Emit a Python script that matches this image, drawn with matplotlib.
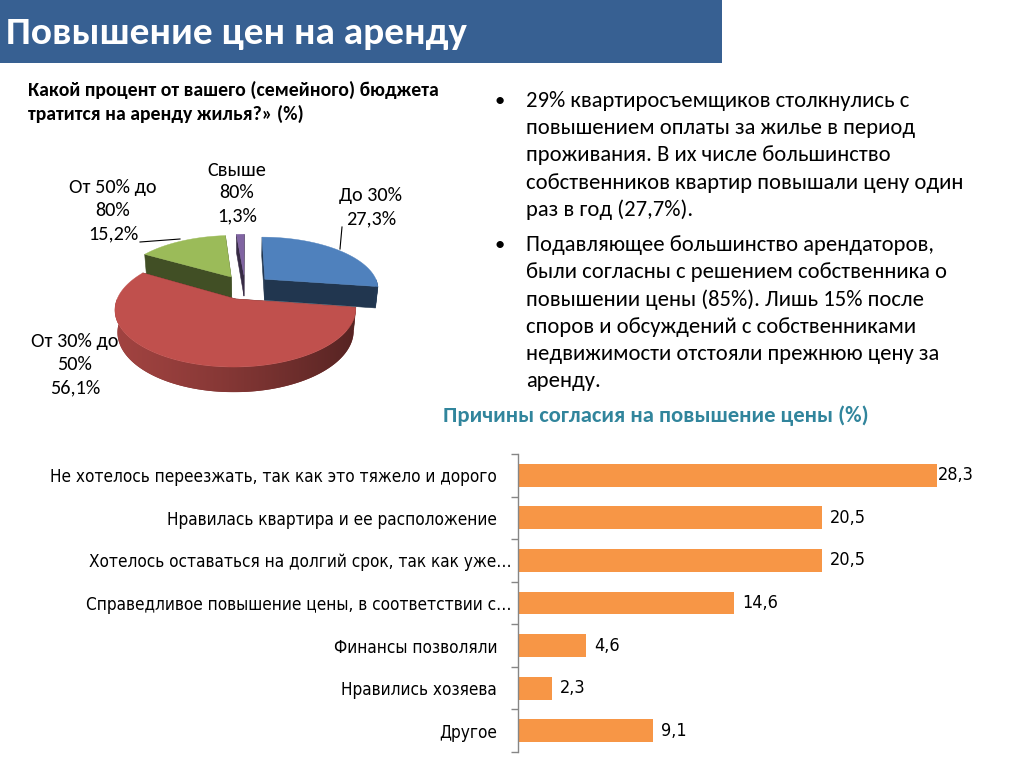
import numpy as np
import matplotlib
matplotlib.use("Agg")
import matplotlib.pyplot as plt
import matplotlib.font_manager as fm
from matplotlib.ft2font import FT2Font
from matplotlib.patches import Polygon, Rectangle

# ---------------- data ----------------
pie_labels = ["До 30%", "От 30% до\n50%", "От 50% до\n80%", "Свыше\n80%"]
pie_values = [27.3, 56.1, 15.2, 1.3]
pie_value_text = ["27,3%", "56,1%", "15,2%", "1,3%"]

bar_categories = [
    "Не хотелось переезжать, так как это тяжело и дорого",
    "Нравилась квартира и ее расположение",
    "Хотелось оставаться на долгий срок, так как уже…",
    "Справедливое повышение цены, в соответствии с…",
    "Финансы позволяли",
    "Нравились хозяева",
    "Другое",
]
bar_values = [28.3, 20.5, 20.5, 14.6, 4.6, 2.3, 9.1]
bar_value_text = ["28,3", "20,5", "20,5", "14,6", "4,6", "2,3", "9,1"]

title = "Повышение цен на аренду"
pie_question = ["Какой процент от вашего (семейного) бюджета",
                "тратится на аренду жилья?» (%)"]
bullet1 = ["29% квартиросъемщиков столкнулись с",
           "повышением оплаты за жилье в период",
           "проживания. В их числе большинство",
           "собственников квартир повышали цену один",
           "раз в год (27,7%)."]
bullet2 = ["Подавляющее большинство арендаторов,",
           "были согласны с решением собственника о",
           "повышении цены (85%). Лишь 15% после",
           "споров и обсуждений с собственниками",
           "недвижимости отстояли прежнюю цену за",
           "аренду."]
bar_title = "Причины согласия на повышение цены (%)"

# ---------------- fonts ----------------
def has_cyr_path(path):
    try:
        return ord('Ж') in FT2Font(path).get_charmap()
    except Exception:
        return False

def prop_for(name, weight="normal"):
    try:
        path = fm.findfont(fm.FontProperties(family=name, weight=weight),
                           fallback_to_default=False)
    except Exception:
        return None
    if not has_cyr_path(path):
        return None
    return fm.FontProperties(fname=path)

def pick(cands, weight="normal"):
    for c in cands:
        p = prop_for(c, weight)
        if p is not None:
            return p
    return fm.FontProperties(family="DejaVu Sans", weight=weight)

def condensed(weight):
    want_bold = weight == "bold"
    for nm in ("Liberation Sans Narrow", "DejaVu Sans"):
        for f in fm.fontManager.ttflist:
            if f.name != nm:
                continue
            if nm == "DejaVu Sans" and f.stretch != "condensed":
                continue
            isb = f.weight in ("bold", 700)
            if isb == want_bold and f.style == "normal" and has_cyr_path(f.fname):
                return fm.FontProperties(fname=f.fname)
    return None

BODY = pick(["Carlito", "Lato", "Open Sans", "Noto Sans"])
BODY_B = pick(["Carlito", "Lato", "Open Sans", "Noto Sans"], "bold")
NARROW = condensed("normal") or BODY

W, H = 1018, 757
fig = plt.figure(figsize=(W / 100, H / 100), dpi=100)
fig.patch.set_facecolor("white")
renderer = fig.canvas.get_renderer()

ov = fig.add_axes([0, 0, 1, 1])
ov.axis("off")
ov.set_zorder(0)

def fp(base, size):
    p = base.copy()
    p.set_size(size)
    return p

def fit_size(s, width_px, prop):
    t = fig.text(0, 0, s, fontproperties=fp(prop, 20))
    w = t.get_window_extent(renderer).width
    t.remove()
    return 20 * width_px / w

# ---------------- header ----------------
ov.add_patch(Rectangle((0, 0), 722, 63, facecolor="#376092", edgecolor="none"))
fs = fit_size(title, 460, BODY_B)
ov.text(6, 34, title, fontproperties=fp(BODY_B, fs), color="white",
        ha="left", va="center")

# ---------------- question ----------------
fs = fit_size(pie_question[0], 409, BODY_B)
for i, line in enumerate(pie_question):
    ov.text(28, 90 + 24 * i, line, fontproperties=fp(BODY_B, fs),
            ha="left", va="center", color="black")

# ---------------- bullets ----------------
fs = fit_size(bullet1[3], 435, BODY)
for lines, y0 in ((bullet1, 101), (bullet2, 245)):
    ov.text(500, y0, "•", fontproperties=fp(BODY, fs * 0.9), ha="center", va="center")
    for i, line in enumerate(lines):
        ov.text(526, y0 + 27.2 * i, line, fontproperties=fp(BODY, fs),
                ha="left", va="center", color="black")

# ---------------- 3D pie ----------------
cx, cy, P = 245, 287, 114
phi = np.deg2rad(27)
Dcam = 5.2
hgt = 0.215
expl = 0.236
top_colors = ["#4F81BD", "#C0504D", "#9BBB59", "#8064A2"]
grad_x0, grad_x1 = 110, 360

def proj(X, Y, Z):
    yp = Y * np.cos(phi) - Z * np.sin(phi)
    zp = Y * np.sin(phi) + Z * np.cos(phi)
    s = Dcam / (Dcam - zp)
    return cx + P * s * X, cy - P * s * yp, zp

def shade(c, f):
    r, g, b = matplotlib.colors.to_rgb(c)
    return (r * f, g * f, b * f)

def wall_shade(xpix):
    u = np.clip((xpix - grad_x0) / (grad_x1 - grad_x0), 0, 1)
    return 0.84 - 0.40 * u ** 1.3

fracs = np.array(pie_values) / np.sum(pie_values)
bounds = np.concatenate([[0], np.cumsum(fracs) * 360])
walls = []   # (depth, kind, poly, color)
tops = []
for i in range(len(pie_values)):
    t1, t2 = bounds[i], bounds[i + 1]
    tm = np.deg2rad((t1 + t2) / 2)
    ox, oz = expl * np.sin(tm), -expl * np.cos(tm)
    vx, vy, vz = proj(ox, 0, oz)
    th = np.deg2rad(np.linspace(t1, t2, max(3, int((t2 - t1) / 1.0) + 2)))
    RX = ox + np.sin(th)
    RZ = oz - np.cos(th)
    tx, ty, tz = proj(RX, 0 * RX, RZ)
    tops.append((np.mean(tz), np.column_stack([np.r_[vx, tx], np.r_[vy, ty]]), top_colors[i]))
    # visible outer wall (front half)
    a1, a2 = max(t1, 90), min(t2, 270)
    if a2 > a1:
        tw = np.deg2rad(np.linspace(a1, a2, max(3, int(a2 - a1) + 2)))
        WX = ox + np.sin(tw)
        WZ = oz - np.cos(tw)
        ux, uy, uz = proj(WX, 0 * WX, WZ)
        lx, ly, lz = proj(WX, -hgt + 0 * WX, WZ)
        poly = np.column_stack([np.r_[ux, lx[::-1]], np.r_[uy, ly[::-1]]])
        walls.append((np.mean(uz), "grad", poly, top_colors[i]))
    # radial walls
    bx, by, _ = proj(RX, -hgt + 0 * RX, RZ)
    vbx, vby, _ = proj(ox, -hgt, oz)
    for k in (0, -1):
        poly = np.array([(vx, vy), (tx[k], ty[k]), (bx[k], by[k]), (vbx, vby)])
        walls.append(((vz + tz[k]) / 2, "flat", poly, top_colors[i]))

z = 2.0
for depth, kind, poly, col in sorted(walls, key=lambda a: a[0]):
    z += 0.01
    if kind == "flat":
        c = shade(col, 0.42)
        ov.add_patch(Polygon(poly, closed=True, facecolor=c, edgecolor=c, lw=0.4, zorder=z))
    else:
        x0, x1 = poly[:, 0].min(), poly[:, 0].max()
        y0, y1 = poly[:, 1].min(), poly[:, 1].max()
        xs = np.linspace(x0, x1, 200)
        f = wall_shade(xs)
        img = np.array(matplotlib.colors.to_rgb(col))[None, None, :] * f[None, :, None]
        img = np.repeat(img, 2, axis=0)
        patch = Polygon(poly, closed=True, facecolor=shade(col, float(f.mean())),
                        edgecolor="none", zorder=z)
        ov.add_patch(patch)
        im = ov.imshow(img, extent=[x0, x1, y1, y0], aspect="auto",
                       interpolation="bilinear", zorder=z + 0.005)
        im.set_clip_path(patch)

for depth, poly, col in sorted(tops, key=lambda a: a[0]):
    ov.add_patch(Polygon(poly, closed=True, facecolor=col, edgecolor=col, lw=0.3, zorder=3))

fs_pie = fit_size("От 50% до", 87, BODY)
lab_pos = [(371, 196), (75, 342), (113, 188), (237, 170)]
for i, (x, y) in enumerate(lab_pos):
    lines = pie_labels[i].split("\n") + [pie_value_text[i]]
    for j, line in enumerate(lines):
        ov.text(x, y + 23 * j, line, fontproperties=fp(BODY, fs_pie),
                ha="center", va="center", color="black", zorder=4)
ov.plot([140, 180], [242, 239], color="black", lw=0.8, zorder=4)
ov.plot([342, 340], [227, 249], color="black", lw=0.8, zorder=4)

# ---------------- bar title ----------------
fs = fit_size(bar_title, 426, BODY_B)
ov.text(656, 416, bar_title, fontproperties=fp(BODY_B, fs),
        color="#31859C", ha="center", va="center")

ov.set_xlim(0, W)
ov.set_ylim(H, 0)

# ---------------- bar chart ----------------
ax_l, ax_r, ax_t, ax_b = 518, 1005, 454, 752
px_per_unit = (937 - 518) / 28.3
label_right_max = 973
ax = fig.add_axes([ax_l / W, 1 - ax_b / H, (ax_r - ax_l) / W, (ax_b - ax_t) / H])
ax.set_zorder(1)
ax.patch.set_alpha(0)
ypos = np.arange(len(bar_values))
ax.barh(ypos, bar_values, height=0.54, color="#F79646", edgecolor="none")
ax.set_ylim(len(bar_values) - 0.5, -0.5)
ax.set_xlim(0, (ax_r - ax_l) / px_per_unit)
for s in ("top", "right", "bottom"):
    ax.spines[s].set_visible(False)
ax.spines["left"].set_color("#868686")
ax.spines["left"].set_linewidth(1)
ax.set_xticks([])
ax.set_yticks(ypos)
fs_bar = fit_size(bar_categories[0], 446, NARROW)
ax.set_yticklabels(bar_categories, fontproperties=fp(NARROW, fs_bar))
ax.tick_params(axis="y", which="major", length=0, pad=15)
for tick, lab in zip(ax.yaxis.get_major_ticks(), bar_categories):
    if lab.endswith("…"):
        tick.set_pad(4.5)
ax.set_yticks(np.arange(-0.5, len(bar_values) + 0.5, 1), minor=True)
ax.tick_params(axis="y", which="minor", length=5, color="#868686", width=1, direction="out")
for i, (v, t) in enumerate(zip(bar_values, bar_value_text)):
    txt = ax.text(v + 0.55, i, t, fontproperties=fp(NARROW, fs_bar * 1.05),
                  ha="left", va="center")
    wpx = txt.get_window_extent(renderer).width
    xmax_units = (label_right_max - ax_l - wpx) / px_per_unit
    if v + 0.55 > xmax_units:
        txt.set_x(max(v + 0.05, xmax_units))

fig.savefig("out.png", dpi=100, facecolor="white")
